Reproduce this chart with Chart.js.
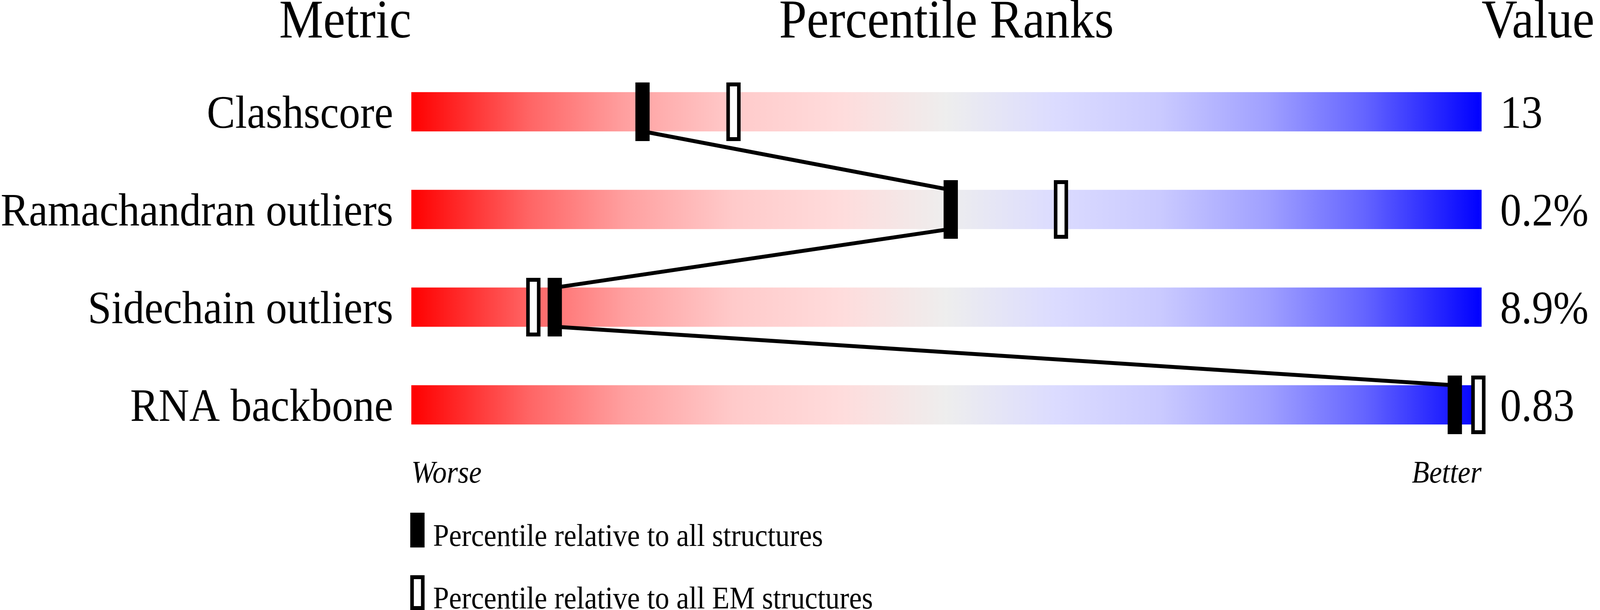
<!DOCTYPE html>
<html>
<head>
<meta charset="utf-8">
<script src="https://cdn.jsdelivr.net/npm/chart.js@4.4.1/dist/chart.umd.min.js"></script>
<style>
html,body{margin:0;padding:0;background:#fff;overflow:hidden;width:100%;height:100%}
canvas{display:block}
</style>
</head>
<body>
<canvas id="c" width="4485" height="1561" style="width:100vw;height:100vh"></canvas>
<script>
// ---------------- data ----------------
const metrics = ['Clashscore', 'Ramachandran outliers', 'Sidechain outliers', 'RNA backbone'];
const metricValues = ['13', '0.2%', '8.9%', '0.83'];
const pctAll = [21.6, 50.4, 13.4, 97.5];   // percentile relative to all structures
const pctEM = [30.1, 60.7, 11.4, 99.7];    // percentile relative to all EM structures
const sliderRange = [0, 100];
const axisEndLabels = ['Worse', 'Better'];
const headers = ['Metric', 'Percentile Ranks', 'Value'];
const legendLabels = ['Percentile relative to all structures', 'Percentile relative to all EM structures'];

// ---------------- styling helpers ----------------
const SERIF = "'Liberation Serif', 'Times New Roman', serif";
const BAR_PX = 100;       // slider bar thickness
const ROW_PX = 250;       // row pitch (chart area 1000 / 4 rows)
const HALF = (BAR_PX / 2) / ROW_PX; // bar half height in row units

function makeMarker(w, h, open) {
  const c = document.createElement('canvas');
  c.width = w; c.height = h;
  const g = c.getContext('2d');
  g.fillStyle = '#000';
  g.fillRect(0, 0, w, h);
  if (open) {
    g.fillStyle = '#fff';
    g.fillRect(10, 10, w - 20, h - 20);
  }
  return c;
}
const solidMarker = makeMarker(40, 150, false);
const openMarker = makeMarker(40, 150, true);
const solidLegend = makeMarker(40, 89, false);
const openLegend = makeMarker(40, 89, true);

const gradStops = [
  [0.00, '#ff0000'], [0.11, '#ff6565'], [0.20, '#ffa0a0'], [0.30, '#ffcaca'],
  [0.40, '#ffdcdc'], [0.50, '#eeeeee'], [0.60, '#dcdcff'], [0.70, '#cacaff'],
  [0.80, '#a0a0ff'], [0.89, '#6565ff'], [1.00, '#0000ff']
];
function sliderGradient(ctx) {
  const chart = ctx.chart;
  const xs = chart.scales.x;
  if (!chart.chartArea || !xs) return '#eeeeee';
  const x0 = xs.getPixelForValue(sliderRange[0]);
  const x1 = xs.getPixelForValue(sliderRange[1]);
  const g = chart.ctx.createLinearGradient(x0, 0, x1, 0);
  gradStops.forEach(s => g.addColorStop(s[0], s[1]));
  return g;
}

// connecting line: from bottom edge of one row's bar to top edge of the next
const linkPts = [];
pctAll.forEach((p, i) => {
  if (i > 0) linkPts.push({x: p, y: i - HALF});
  if (i < pctAll.length - 1) linkPts.push({x: p, y: i + HALF});
});

// column headers + legend, placed from the chart area
const decorPlugin = {
  id: 'decor',
  afterDraw(chart) {
    const {ctx, chartArea} = chart;
    ctx.save();
    ctx.fillStyle = '#000';
    ctx.textBaseline = 'alphabetic';
    ctx.font = '139px ' + SERIF;
    ctx.textAlign = 'right';
    ctx.fillText(headers[0], chartArea.left, 96);
    ctx.textAlign = 'center';
    ctx.fillText(headers[1], (chartArea.left + chartArea.right) / 2, 96);
    ctx.textAlign = 'left';
    ctx.fillText(headers[2], chartArea.right, 96);

    const markers = [solidLegend, openLegend];
    ctx.font = '80px ' + SERIF;
    ctx.textAlign = 'left';
    legendLabels.forEach((t, i) => {
      const top = 1312 + i * 160;
      ctx.drawImage(markers[i], chartArea.left - 3, top);
      ctx.fillText(t, chartArea.left + 61, top + 85);
    });
    ctx.restore();
  }
};

const chart = new Chart(document.getElementById('c'), {
  type: 'bar',
  data: {
    labels: metrics,
    datasets: [
      {
        type: 'scatter',
        label: legendLabels[0],
        data: pctAll.map((p, i) => ({x: p, y: i})),
        xAxisID: 'x', yAxisID: 'yRow',
        pointStyle: solidMarker,
        pointRadius: 5,
        clip: false,
        order: 0
      },
      {
        type: 'scatter',
        label: legendLabels[1],
        data: pctEM.map((p, i) => ({x: p, y: i})),
        xAxisID: 'x', yAxisID: 'yRow',
        pointStyle: openMarker,
        pointRadius: 5,
        clip: false,
        order: 0
      },
      {
        type: 'line',
        label: 'link',
        data: linkPts,
        xAxisID: 'x', yAxisID: 'yRow',
        borderColor: '#000',
        borderWidth: 10,
        pointRadius: 0,
        fill: false,
        tension: 0,
        clip: false,
        order: 1
      },
      {
        type: 'bar',
        label: 'slider',
        indexAxis: 'y',
        data: metrics.map(() => sliderRange),
        xAxisID: 'x', yAxisID: 'y',
        backgroundColor: sliderGradient,
        borderWidth: 0,
        barThickness: BAR_PX,
        order: 2
      }
    ]
  },
  options: {
    responsive: false,
    devicePixelRatio: 1,
    animation: false,
    events: [],
    layout: {padding: {top: 161, left: 0, right: 0, bottom: 0}},
    plugins: {
      legend: {display: false},
      tooltip: {enabled: false},
      title: {display: false}
    },
    scales: {
      x: {
        type: 'linear',
        position: 'bottom',
        offset: false,
        min: sliderRange[0], max: sliderRange[1],
        grid: {display: false, drawTicks: false, offset: false},
        border: {display: false},
        afterBuildTicks: s => { s.ticks = sliderRange.map(v => ({value: v})); },
        afterFit: s => { s.height = 400; },
        ticks: {
          align: 'inner',
          padding: 5,
          maxRotation: 0,
          autoSkip: false,
          color: '#000',
          font: {family: SERIF, size: 80, style: 'italic'},
          callback: v => (v === sliderRange[0] ? axisEndLabels[0] : axisEndLabels[1])
        }
      },
      y: {
        type: 'category',
        axis: 'y',
        position: 'left',
        labels: metrics,
        offset: true,
        grid: {display: false, drawTicks: false},
        border: {display: false},
        afterFit: s => { s.width = 1153; },
        ticks: {padding: 51, labelOffset: 10, color: '#000', font: {family: SERIF, size: 119}}
      },
      yRight: {
        type: 'category',
        axis: 'y',
        position: 'right',
        labels: metricValues,
        offset: true,
        grid: {display: false, drawTicks: false},
        border: {display: false},
        afterFit: s => { s.width = 332; },
        ticks: {padding: 52, labelOffset: 10, color: '#000', font: {family: SERIF, size: 119}}
      },
      yRow: {
        type: 'linear',
        axis: 'y',
        display: false,
        offset: false,
        min: -0.5,
        max: metrics.length - 0.5,
        reverse: true
      }
    }
  },
  plugins: [decorPlugin]
});
// fit the 4485x1561 drawing to the actual window
chart.canvas.style.width = '100vw';
chart.canvas.style.height = '100vh';
</script>
</body>
</html>
